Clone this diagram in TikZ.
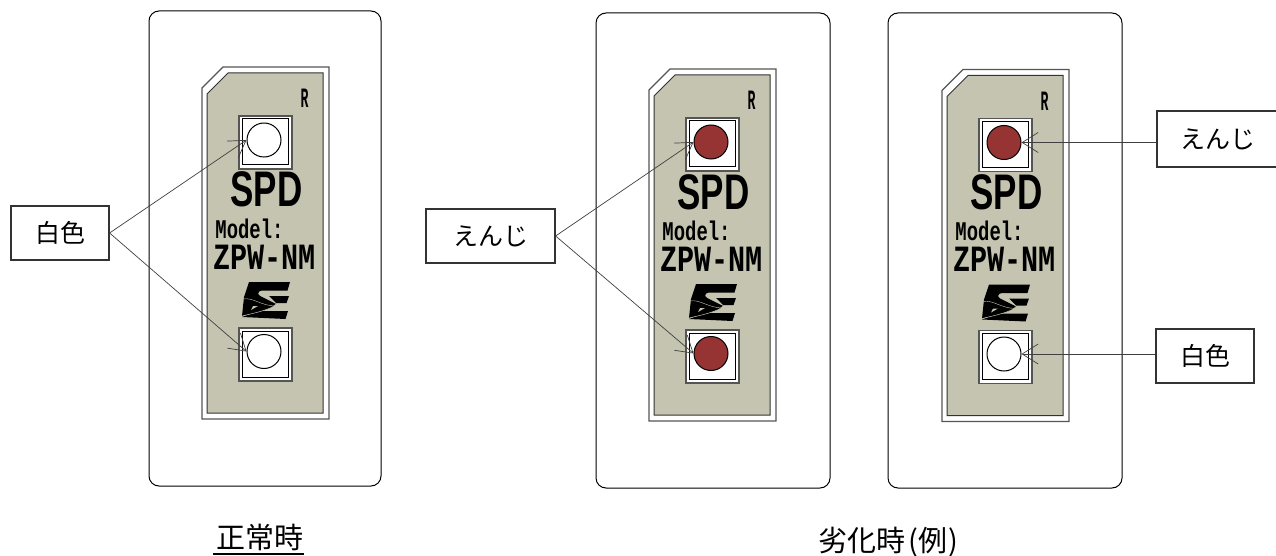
\documentclass[tikz,border=0pt]{standalone}
\usepackage{fontspec}
\usetikzlibrary{arrows.meta}
\newfontfamily\jpfont{Noto Sans CJK JP}
\newfontfamily\platefont{Liberation Mono}[BoldFont={Liberation Mono Bold}]
\newfontfamily\spdfont{Liberation Sans}[BoldFont={Liberation Sans Bold}]
\definecolor{platecol}{RGB}{196,196,176}
\definecolor{lampred}{RGB}{150,52,52}
\definecolor{rimcol}{RGB}{85,85,85}

% one device: #1 x shift, #2 y shift, #3 name, #4 upper lamp, #5 lower lamp
\newcommand{\spdunit}[5]{
  \begin{scope}[shift={(#1,#2)}]
    \draw[rim] (202,88) -- (223,67) -- (329,67) -- (329,419) -- (202,419) -- cycle;
    \draw[line width=1,fill=platecol,draw=black!80] (207,94) -- (228,73) -- (323,73) -- (323,413) -- (207,413) -- cycle;
    \draw[rim,fill=white] (239,116) rectangle (292,169);
    \draw[line width=1] (242,119) rectangle (288,165);
    \draw[rim,fill=white] (239,328) rectangle (292,381);
    \draw[line width=1] (242,331) rectangle (288,377);
    \node[lamp,fill=#4] (#3top) at (264,140) {};
    \node[lamp,fill=#5] (#3bot) at (264,351.5) {};
    \node[platetext,xscale=.47,font=\platefont\bfseries\fontsize{28}{28}\selectfont] (#3r) at (304.5,108) {R};
    \node[platetext,xscale=.7,text height=36pt,font=\spdfont\bfseries\fontsize{50}{50}\selectfont] (#3spd) at (266.5,207) {SPD};
    \node[platetext,xscale=.7,text height=18pt,font=\platefont\bfseries\fontsize{27}{27}\selectfont] (#3model) at (249.5,238) {Model:};
    \node[platetext,xscale=.77,text height=22pt,font=\platefont\bfseries\fontsize{37}{37}\selectfont] (#3zpw) at (264.5,269) {ZPW-NM};
    % logo
    \begin{scope}[shift={(243,282)}]
      \fill (6,0) -- (47,0) -- (44.5,8.5) -- (19,8.5) .. controls (15,9) and (14,12) .. (17,14) -- (33,22)
        .. controls (30,27) and (12,31) .. (-1,34) -- (1,15) -- cycle;
      \fill (26,14) -- (46,14) -- (43.5,21) -- (33,21) -- cycle;
      \fill (15,29) -- (45,29) -- (42.5,37) -- (-1,35) -- cycle;
      \draw[platecol,line width=.5] (33,22) .. controls (30,27) and (12,31) .. (-1,34);
      \draw[platecol,line width=.4] (0,17) .. controls (10,15) and (18,24) .. (33,24);
      \fill[platecol] (10,24) -- (15,24) -- (8,28) -- cycle;
    \end{scope}
  \end{scope}
}

\begin{document}
\begin{tikzpicture}
  [x=1pt,y=-1pt,>={Straight Barb[length=16pt,width=20pt]},
   rim/.style={line width=1.3,draw=rimcol},
   panel/.style={draw=black,line width=1,rounded corners=10},
   lamp/.style={draw=black,line width=1,circle,minimum size=34pt,inner sep=0pt},
   platetext/.style={inner sep=0pt,text=black,text depth=0pt,anchor=base},
   labelbox/.style={draw=black!80,line width=1.2,inner sep=0pt,font=\jpfont\fontsize{25}{25}\selectfont},
   caption/.style={inner sep=0pt,font=\jpfont\fontsize{29}{29}\selectfont},
   pointer/.style={->,line width=.7,draw=black!75}]
  \useasboundingbox (0,0) rectangle (1276,556);

  \draw[panel] (149,11) rectangle (381,486);
  \draw[panel] (596,13) rectangle (830,488);
  \draw[panel] (888,13) rectangle (1122,488);

  \spdunit{0}{0}{a}{white}{white}
  \spdunit{447}{2}{b}{lampred}{lampred}
  \spdunit{740}{2.5}{c}{lampred}{white}

  \node[labelbox,minimum width=98pt,minimum height=54pt] (whitebox) at (60,233) {白色};
  \node[labelbox,minimum width=129pt,minimum height=54pt] (redbox) at (490.5,236) {えんじ};
  \node[labelbox,minimum width=122pt,minimum height=56pt] (redside) at (1218,139) {えんじ};
  \node[labelbox,minimum width=98pt,minimum height=54pt] (whiteside) at (1205,356) {白色};

  \draw[pointer] (whitebox.east) -- (atop.west);
  \draw[pointer] (whitebox.east) -- (abot.west);
  \draw[pointer] (redbox.east) -- (btop.west);
  \draw[pointer] (redbox.east) -- (bbot.west);
  \draw[pointer] (redside.west |- ctop.east) -- (ctop.east);
  \draw[pointer] (whiteside.west |- cbot.east) -- (cbot.east);

  \node[caption] (normalcap) at (260,537) {正常時};
  \draw[line width=2] (213,553.5) -- (normalcap.east |- 0,553.5);
  \node[caption] (worncap) at (888.5,542) {劣化時\kern3pt(例\kern1pt)};
\end{tikzpicture}
\end{document}
